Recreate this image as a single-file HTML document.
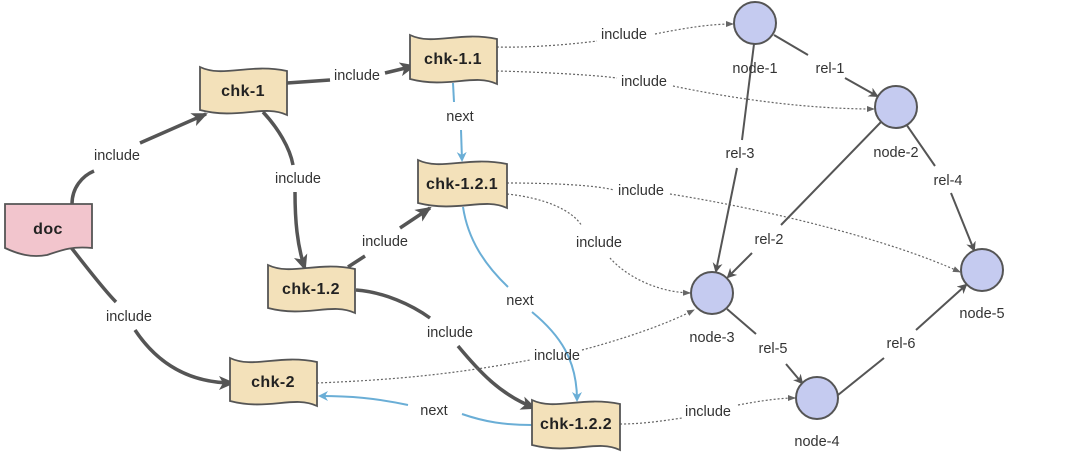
<!DOCTYPE html>
<html><head><meta charset="utf-8"><style>
html,body{margin:0;padding:0;background:#fff;}
svg{display:block;font-family:"Liberation Sans",sans-serif;}
.lb{font-size:14.5px;fill:#333;text-anchor:middle;}
.nb{font-size:16px;font-weight:bold;fill:#222;text-anchor:middle;letter-spacing:0.4px;}
</style></head><body>
<svg width="1080" height="457" viewBox="0 0 1080 457" xmlns="http://www.w3.org/2000/svg">
<defs>
<marker id="ag" markerWidth="10" markerHeight="10" refX="8" refY="5" orient="auto" markerUnits="userSpaceOnUse"><path d="M0,0 L10,5 L0,10 L3,5z" fill="#555"/></marker>
<marker id="agL" markerWidth="16" markerHeight="14" refX="14" refY="7" orient="auto" markerUnits="userSpaceOnUse"><path d="M0,0 L16,7 L0,14 L4,7z" fill="#555"/></marker>
<marker id="ab" markerWidth="10" markerHeight="10" refX="8" refY="5" orient="auto" markerUnits="userSpaceOnUse"><path d="M0,0 L10,5 L0,10 L3,5z" fill="#6aaed6"/></marker>
<marker id="ad" markerWidth="8" markerHeight="8" refX="7" refY="4" orient="auto" markerUnits="userSpaceOnUse"><path d="M0,1 L8,4 L0,7z" fill="#666"/></marker>
</defs>

<g fill="none" stroke="#555" stroke-width="3.5">
<path d="M72,204 C72,188 82,176 94,171"/>
<path d="M140,143 L206,114" marker-end="url(#agL)"/>
<path d="M287,83 L330,80"/>
<path d="M385,73 L414,66" marker-end="url(#agL)"/>
<path d="M263,112 C278,128 290,148 293,165"/>
<path d="M295,192 C295,220 297,245 305,269" marker-end="url(#agL)"/>
<path d="M70,246 C84,264 104,290 116,302"/>
<path d="M135,330 C155,360 185,383 233,383" marker-end="url(#agL)"/>
<path d="M348,267 L365,256"/>
<path d="M400,228 L430,208" marker-end="url(#agL)"/>
<path d="M356,290 C384,292 412,305 430,318"/>
<path d="M458,346 C478,370 500,395 535,408" marker-end="url(#agL)"/>
</g>

<g fill="none" stroke="#6aaed6" stroke-width="2">
<path d="M453,83 L454,102"/>
<path d="M461,130 L462,160" marker-end="url(#ab)"/>
<path d="M463,207 C468,240 485,265 508,287"/>
<path d="M532,312 C560,335 577,360 577,400" marker-end="url(#ab)"/>
<path d="M532,425 C505,425 485,422 462,414"/>
<path d="M408,405 C375,398 350,396 320,396" marker-end="url(#ab)"/>
</g>

<g fill="none" stroke="#666" stroke-width="1.2" stroke-dasharray="2,2">
<path d="M497,47 C530,48 575,44 597,41"/>
<path d="M655,34 C685,28 710,24 733,24" marker-end="url(#ad)"/>
<path d="M497,71 C540,72 595,75 617,78"/>
<path d="M673,86 C740,100 810,109 874,109" marker-end="url(#ad)"/>
<path d="M507,183 C550,183 595,185 614,190"/>
<path d="M670,194 C770,210 890,240 960,272" marker-end="url(#ad)"/>
<path d="M507,194 C545,198 572,210 582,226"/>
<path d="M610,258 C625,275 655,292 690,293" marker-end="url(#ad)"/>
<path d="M317,383 C390,380 450,375 530,360"/>
<path d="M582,350 C620,340 665,325 694,310" marker-end="url(#ad)"/>
<path d="M620,424 C645,424 668,420 682,418"/>
<path d="M738,405 C765,400 782,398 795,398" marker-end="url(#ad)"/>
</g>

<g fill="none" stroke="#555" stroke-width="2">
<path d="M774,35 L808,55"/>
<path d="M845,78 L877,96" marker-end="url(#ag)"/>
<path d="M754,44 L742,140"/>
<path d="M737,168 L716,271" marker-end="url(#ag)"/>
<path d="M881,122 L781,225"/>
<path d="M752,253 L728,277" marker-end="url(#ag)"/>
<path d="M906,124 L935,166"/>
<path d="M951,193 L974,250" marker-end="url(#ag)"/>
<path d="M727,309 L756,334"/>
<path d="M786,364 L802,383" marker-end="url(#ag)"/>
<path d="M838,395 L884,358"/>
<path d="M916,330 L966,285" marker-end="url(#ag)"/>
</g>

<path d="M5,204 L92,204 L92,248 C72,246 62,250 47,255 C31,258 18,254 5,248 Z" fill="#f2c5cd" stroke="#555" stroke-width="1.8"/>
<text class="nb" x="48" y="234">doc</text>

<g fill="#f3e1ba" stroke="#555" stroke-width="1.8">
<path d="M200,67 C223,78 249,63 287,71 L287,115 C264,104 238,120 200,110 Z"/>
<path d="M410,35 C433,46 459,31 497,39 L497,84 C474,73 448,89 410,79 Z"/>
<path d="M418,160 C441,171 467,156 507,164 L507,208 C484,197 458,213 418,203 Z"/>
<path d="M268,265 C291,276 317,261 355,269 L355,313 C332,302 306,318 268,308 Z"/>
<path d="M230,358 C253,369 279,354 317,362 L317,406 C294,395 268,411 230,401 Z"/>
<path d="M532,400 C555,411 581,396 620,404 L620,450 C597,439 572,455 532,445 Z"/>
</g>
<text class="nb" x="243" y="96">chk-1</text>
<text class="nb" x="453" y="64">chk-1.1</text>
<text class="nb" x="462" y="189">chk-1.2.1</text>
<text class="nb" x="311" y="294">chk-1.2</text>
<text class="nb" x="273" y="387">chk-2</text>
<text class="nb" x="576" y="429">chk-1.2.2</text>

<g fill="#c5cbf0" stroke="#555" stroke-width="2">
<circle cx="755" cy="23" r="21"/>
<circle cx="896" cy="107" r="21"/>
<circle cx="712" cy="293" r="21"/>
<circle cx="817" cy="398" r="21"/>
<circle cx="982" cy="270" r="21"/>
</g>
<text class="lb" x="755" y="73">node-1</text>
<text class="lb" x="896" y="157">node-2</text>
<text class="lb" x="712" y="342">node-3</text>
<text class="lb" x="817" y="446">node-4</text>
<text class="lb" x="982" y="318">node-5</text>

<text class="lb" x="117" y="160">include</text>
<text class="lb" x="298" y="183">include</text>
<text class="lb" x="357" y="80">include</text>
<text class="lb" x="460" y="121">next</text>
<text class="lb" x="385" y="246">include</text>
<text class="lb" x="129" y="321">include</text>
<text class="lb" x="520" y="305">next</text>
<text class="lb" x="450" y="337">include</text>
<text class="lb" x="434" y="415">next</text>
<text class="lb" x="624" y="39">include</text>
<text class="lb" x="644" y="86">include</text>
<text class="lb" x="641" y="195">include</text>
<text class="lb" x="599" y="247">include</text>
<text class="lb" x="557" y="360">include</text>
<text class="lb" x="708" y="416">include</text>
<text class="lb" x="830" y="73">rel-1</text>
<text class="lb" x="740" y="158">rel-3</text>
<text class="lb" x="948" y="185">rel-4</text>
<text class="lb" x="769" y="244">rel-2</text>
<text class="lb" x="773" y="353">rel-5</text>
<text class="lb" x="901" y="348">rel-6</text>
</svg>
</body></html>
